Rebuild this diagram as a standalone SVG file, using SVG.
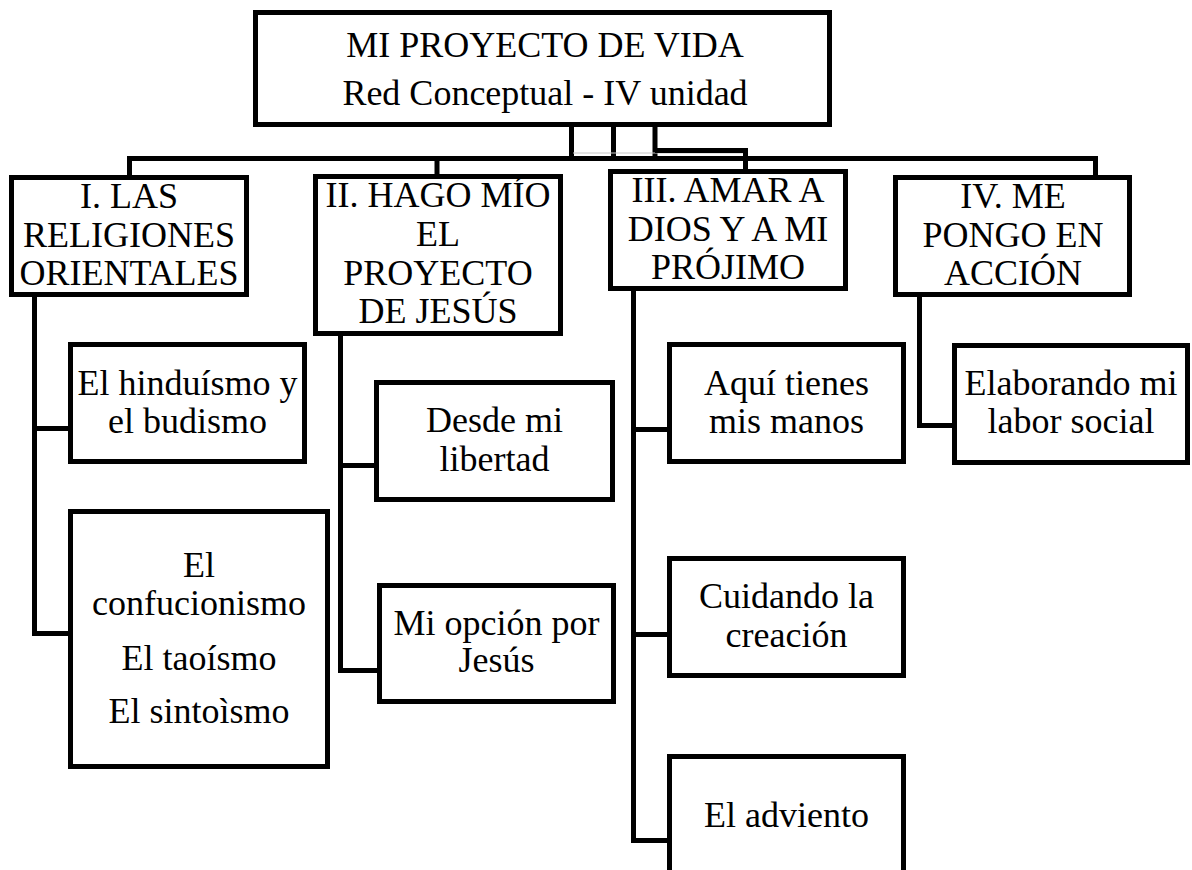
<svg xmlns="http://www.w3.org/2000/svg" width="1192" height="870" viewBox="0 0 1192 870">
<style>
.box{fill:#fff;stroke:#000;stroke-width:5}
.ln{fill:none;stroke:#000;stroke-width:5}
.t{font-family:"Liberation Serif","Times New Roman",serif;font-size:36px;fill:#000;text-anchor:middle}
</style>
<rect width="1192" height="870" fill="#fff"/>
<g id="connectors">
<path class="ln" d="M571.5 127V158.5M613.5 127V158.5M655 127V158.5"/>
<path d="M573 153H744" stroke="#c8c8c8" stroke-width="1"/>
<path class="ln" d="M127 158.5H1098M129.5 158.5V177M437 158.5V176M1095.5 158.5V177"/>
<path class="ln" d="M655 150.5H745.5V171"/>
<path class="ln" d="M34.5 297V633.5H70M34.5 428.5H70"/>
<path class="ln" d="M340.5 334V670.5H379M340.5 465.5H376"/>
<path class="ln" d="M633.5 291V840.5H669M633.5 429.5H669M633.5 634.5H669"/>
<path class="ln" d="M919.5 297V425.5H954"/>
</g>
<g id="title">
<rect class="box" x="255.5" y="12.5" width="574" height="112"/>
<text class="t" x="545" y="57">MI PROYECTO DE VIDA</text>
<text class="t" x="545" y="105">Red Conceptual - IV unidad</text>
</g>
<g id="n1">
<rect class="box" x="11.5" y="177.5" width="235" height="117"/>
<text class="t" x="129" y="208">I. LAS</text>
<text class="t" x="129" y="247">RELIGIONES</text>
<text class="t" x="129" y="285">ORIENTALES</text>
</g>
<g id="n2">
<rect class="box" x="315.5" y="176.5" width="245" height="157"/>
<text class="t" x="438" y="207">II. HAGO MÍO</text>
<text class="t" x="438" y="246">EL</text>
<text class="t" x="438" y="285">PROYECTO</text>
<text class="t" x="438" y="323">DE JESÚS</text>
</g>
<g id="n3">
<rect class="box" x="610.5" y="171.5" width="235" height="117"/>
<text class="t" x="728" y="202">III. AMAR A</text>
<text class="t" x="728" y="241">DIOS Y A MI</text>
<text class="t" x="728" y="279">PRÓJIMO</text>
</g>
<g id="n4">
<rect class="box" x="895.5" y="177.5" width="234" height="117"/>
<text class="t" x="1013" y="208">IV. ME</text>
<text class="t" x="1013" y="247">PONGO EN</text>
<text class="t" x="1013" y="285">ACCIÓN</text>
</g>
<g id="n1a">
<rect class="box" x="70.5" y="344.5" width="234" height="117"/>
<text class="t" x="187.5" y="395">El hinduísmo y</text>
<text class="t" x="187.5" y="433">el budismo</text>
</g>
<g id="n1b">
<rect class="box" x="70.5" y="511.5" width="257" height="255"/>
<text class="t" x="199" y="577">El</text>
<text class="t" x="199" y="615">confucionismo</text>
<text class="t" x="199" y="670">El taoísmo</text>
<text class="t" x="199" y="723">El sintoìsmo</text>
</g>
<g id="n2a">
<rect class="box" x="376.5" y="382.5" width="236" height="117"/>
<text class="t" x="494.5" y="432">Desde mi</text>
<text class="t" x="494.5" y="471">libertad</text>
</g>
<g id="n2b">
<rect class="box" x="379.5" y="585.5" width="234" height="116"/>
<text class="t" x="496.5" y="635">Mi opción por</text>
<text class="t" x="496.5" y="672">Jesús</text>
</g>
<g id="n3a">
<rect class="box" x="669.5" y="344.5" width="234" height="117"/>
<text class="t" x="786.5" y="395">Aquí tienes</text>
<text class="t" x="786.5" y="433">mis manos</text>
</g>
<g id="n3b">
<rect class="box" x="669.5" y="558.5" width="234" height="117"/>
<text class="t" x="786.5" y="608">Cuidando la</text>
<text class="t" x="786.5" y="647">creación</text>
</g>
<g id="n3c">
<rect class="box" x="669.5" y="756.5" width="234" height="160"/>
<text class="t" x="786.5" y="827">El adviento</text>
</g>
<g id="n4a">
<rect class="box" x="954.5" y="345.5" width="233" height="117"/>
<text class="t" x="1071" y="395">Elaborando mi</text>
<text class="t" x="1071" y="433">labor social</text>
</g>
</svg>
